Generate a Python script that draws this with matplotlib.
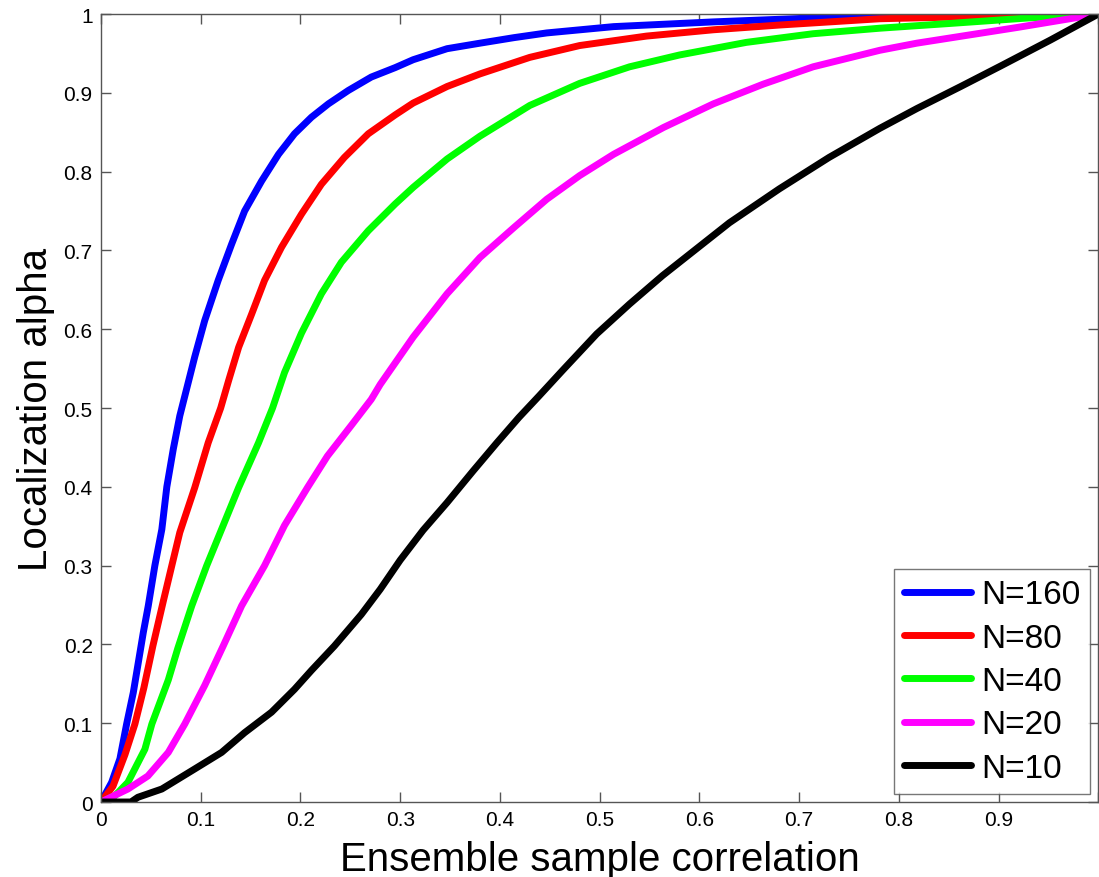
"""
Localization alpha vs ensemble sample correlation for several ensemble sizes.
Values read off the reference figure.
"""
import matplotlib
matplotlib.use("Agg")
import matplotlib.pyplot as plt

plt.rcParams["font.family"] = ["Liberation Sans", "DejaVu Sans"]

# N=160
x_160 = [0, 0.0107, 0.019, 0.0257, 0.0324, 0.0374, 0.0424, 0.0474, 0.054, 0.061, 0.066,
         0.0725, 0.079, 0.087, 0.094, 0.104, 0.1175, 0.131, 0.144, 0.161, 0.178, 0.194,
         0.211, 0.228, 0.248, 0.271, 0.295, 0.313, 0.347, 0.38, 0.414, 0.447, 0.514,
         0.614, 0.714, 0.8, 0.9, 1.0]
y_160 = [0, 0.025, 0.055, 0.099, 0.139, 0.177, 0.215, 0.249, 0.30, 0.346, 0.40,
         0.448, 0.49, 0.53, 0.565, 0.611, 0.662, 0.708, 0.750, 0.788, 0.822, 0.848,
         0.869, 0.886, 0.903, 0.920, 0.932, 0.942, 0.956, 0.963, 0.970, 0.976, 0.984,
         0.990, 0.995, 0.998, 0.999, 1.0]
# N=80
x_80 = [0, 0.012, 0.024, 0.034, 0.043, 0.052, 0.0625, 0.071, 0.079, 0.094, 0.1075,
        0.12, 0.128, 0.138, 0.151, 0.164, 0.181, 0.201, 0.221, 0.244, 0.268, 0.295,
        0.313, 0.347, 0.38, 0.43, 0.48, 0.547, 0.614, 0.68, 0.781, 0.85, 0.93, 1.0]
y_80 = [0, 0.02, 0.06, 0.099, 0.145, 0.198, 0.255, 0.300, 0.342, 0.399, 0.456,
        0.50, 0.535, 0.577, 0.619, 0.662, 0.704, 0.746, 0.784, 0.818, 0.848, 0.872,
        0.887, 0.908, 0.924, 0.945, 0.96, 0.972, 0.980, 0.986, 0.994, 0.996, 0.999, 1.0]
# N=40
x_40 = [0, 0.014, 0.027, 0.044, 0.051, 0.0675, 0.077, 0.091, 0.106, 0.1225, 0.138,
        0.158, 0.172, 0.184, 0.201, 0.221, 0.241, 0.268, 0.295, 0.313, 0.347, 0.38,
        0.43, 0.48, 0.53, 0.58, 0.647, 0.714, 0.781, 0.851, 0.93, 1.0]
y_40 = [0, 0.008, 0.025, 0.067, 0.099, 0.155, 0.195, 0.249, 0.300, 0.351, 0.399,
        0.456, 0.50, 0.545, 0.595, 0.645, 0.685, 0.725, 0.759, 0.78, 0.816, 0.845,
        0.884, 0.912, 0.933, 0.948, 0.964, 0.975, 0.982, 0.988, 0.995, 1.0]
# N=20
x_20 = [0, 0.027, 0.047, 0.0675, 0.084, 0.104, 0.1225, 0.141, 0.164, 0.184, 0.207,
        0.227, 0.251, 0.271, 0.28, 0.313, 0.347, 0.38, 0.414, 0.447, 0.48, 0.514,
        0.564, 0.614, 0.664, 0.714, 0.781, 0.818, 0.919, 1.0]
y_20 = [0, 0.0165, 0.033, 0.063, 0.099, 0.148, 0.198, 0.249, 0.300, 0.351, 0.399,
        0.439, 0.478, 0.511, 0.53, 0.59, 0.645, 0.691, 0.729, 0.765, 0.795, 0.822,
        0.856, 0.886, 0.911, 0.933, 0.954, 0.963, 0.983, 1.0]
# N=10
x_10 = [0, 0.03, 0.037, 0.061, 0.094, 0.121, 0.144, 0.171, 0.194, 0.211, 0.234,
        0.261, 0.28, 0.30, 0.323, 0.347, 0.373, 0.397, 0.419, 0.439, 0.463, 0.497,
        0.530, 0.563, 0.597, 0.63, 0.68, 0.73, 0.781, 0.818, 0.862, 0.902, 0.952, 1.0]
y_10 = [0, 0, 0.006, 0.0165, 0.042, 0.063, 0.088, 0.114, 0.143, 0.167, 0.198,
        0.238, 0.27, 0.307, 0.345, 0.380, 0.420, 0.456, 0.488, 0.515, 0.548, 0.594,
        0.632, 0.668, 0.702, 0.735, 0.778, 0.818, 0.855, 0.880, 0.908, 0.934, 0.967, 1.0]

series = [
    (x_160, y_160, "N=160", "#0000ff"),
    (x_80, y_80, "N=80", "#ff0000"),
    (x_40, y_40, "N=40", "#00ff00"),
    (x_20, y_20, "N=20", "#ff00ff"),
    (x_10, y_10, "N=10", "#000000"),
]

x_ticks = [0, 0.1, 0.2, 0.3, 0.4, 0.5, 0.6, 0.7, 0.8, 0.9, 1.0]
# the "1" label sits past the right edge of the figure in the original
x_ticklabels = ["0", "0.1", "0.2", "0.3", "0.4", "0.5", "0.6", "0.7", "0.8", "0.9", ""]
y_ticks = [0, 0.1, 0.2, 0.3, 0.4, 0.5, 0.6, 0.7, 0.8, 0.9, 1.0]
y_ticklabels = ["0", "0.1", "0.2", "0.3", "0.4", "0.5", "0.6", "0.7", "0.8", "0.9", "1"]

fig = plt.figure(figsize=(10.99, 8.78), dpi=100)
ax = fig.add_axes([0.0919, 0.0854, 0.9075, 0.8975])

for xs, ys, label, color in series:
    ax.plot(xs, ys, color=color, lw=5, label=label, solid_capstyle="round",
            solid_joinstyle="round")

ax.set_xlim(0, 1)
ax.set_ylim(0, 1)
ax.set_xticks(x_ticks)
ax.set_xticklabels(x_ticklabels)
ax.set_yticks(y_ticks)
ax.set_yticklabels(y_ticklabels)
ax.tick_params(direction="in", length=7, width=1, color="#555555",
               labelsize=15, top=True, right=True, pad=6)
for sp in ax.spines.values():
    sp.set_color("#555555")
    sp.set_linewidth(1)

ax.set_xlabel("Ensemble sample correlation", fontsize=29, labelpad=8)
ax.set_ylabel("Localization alpha", fontsize=29, labelpad=6)

leg = ax.legend(loc="lower right", fontsize=24, frameon=True, fancybox=False,
                handlelength=2.0, handletextpad=0.3, labelspacing=0.37,
                borderpad=0.3, borderaxespad=0.25)
leg.get_frame().set_edgecolor("#555555")
leg.get_frame().set_linewidth(1)

fig.savefig("out.png", dpi=100)
